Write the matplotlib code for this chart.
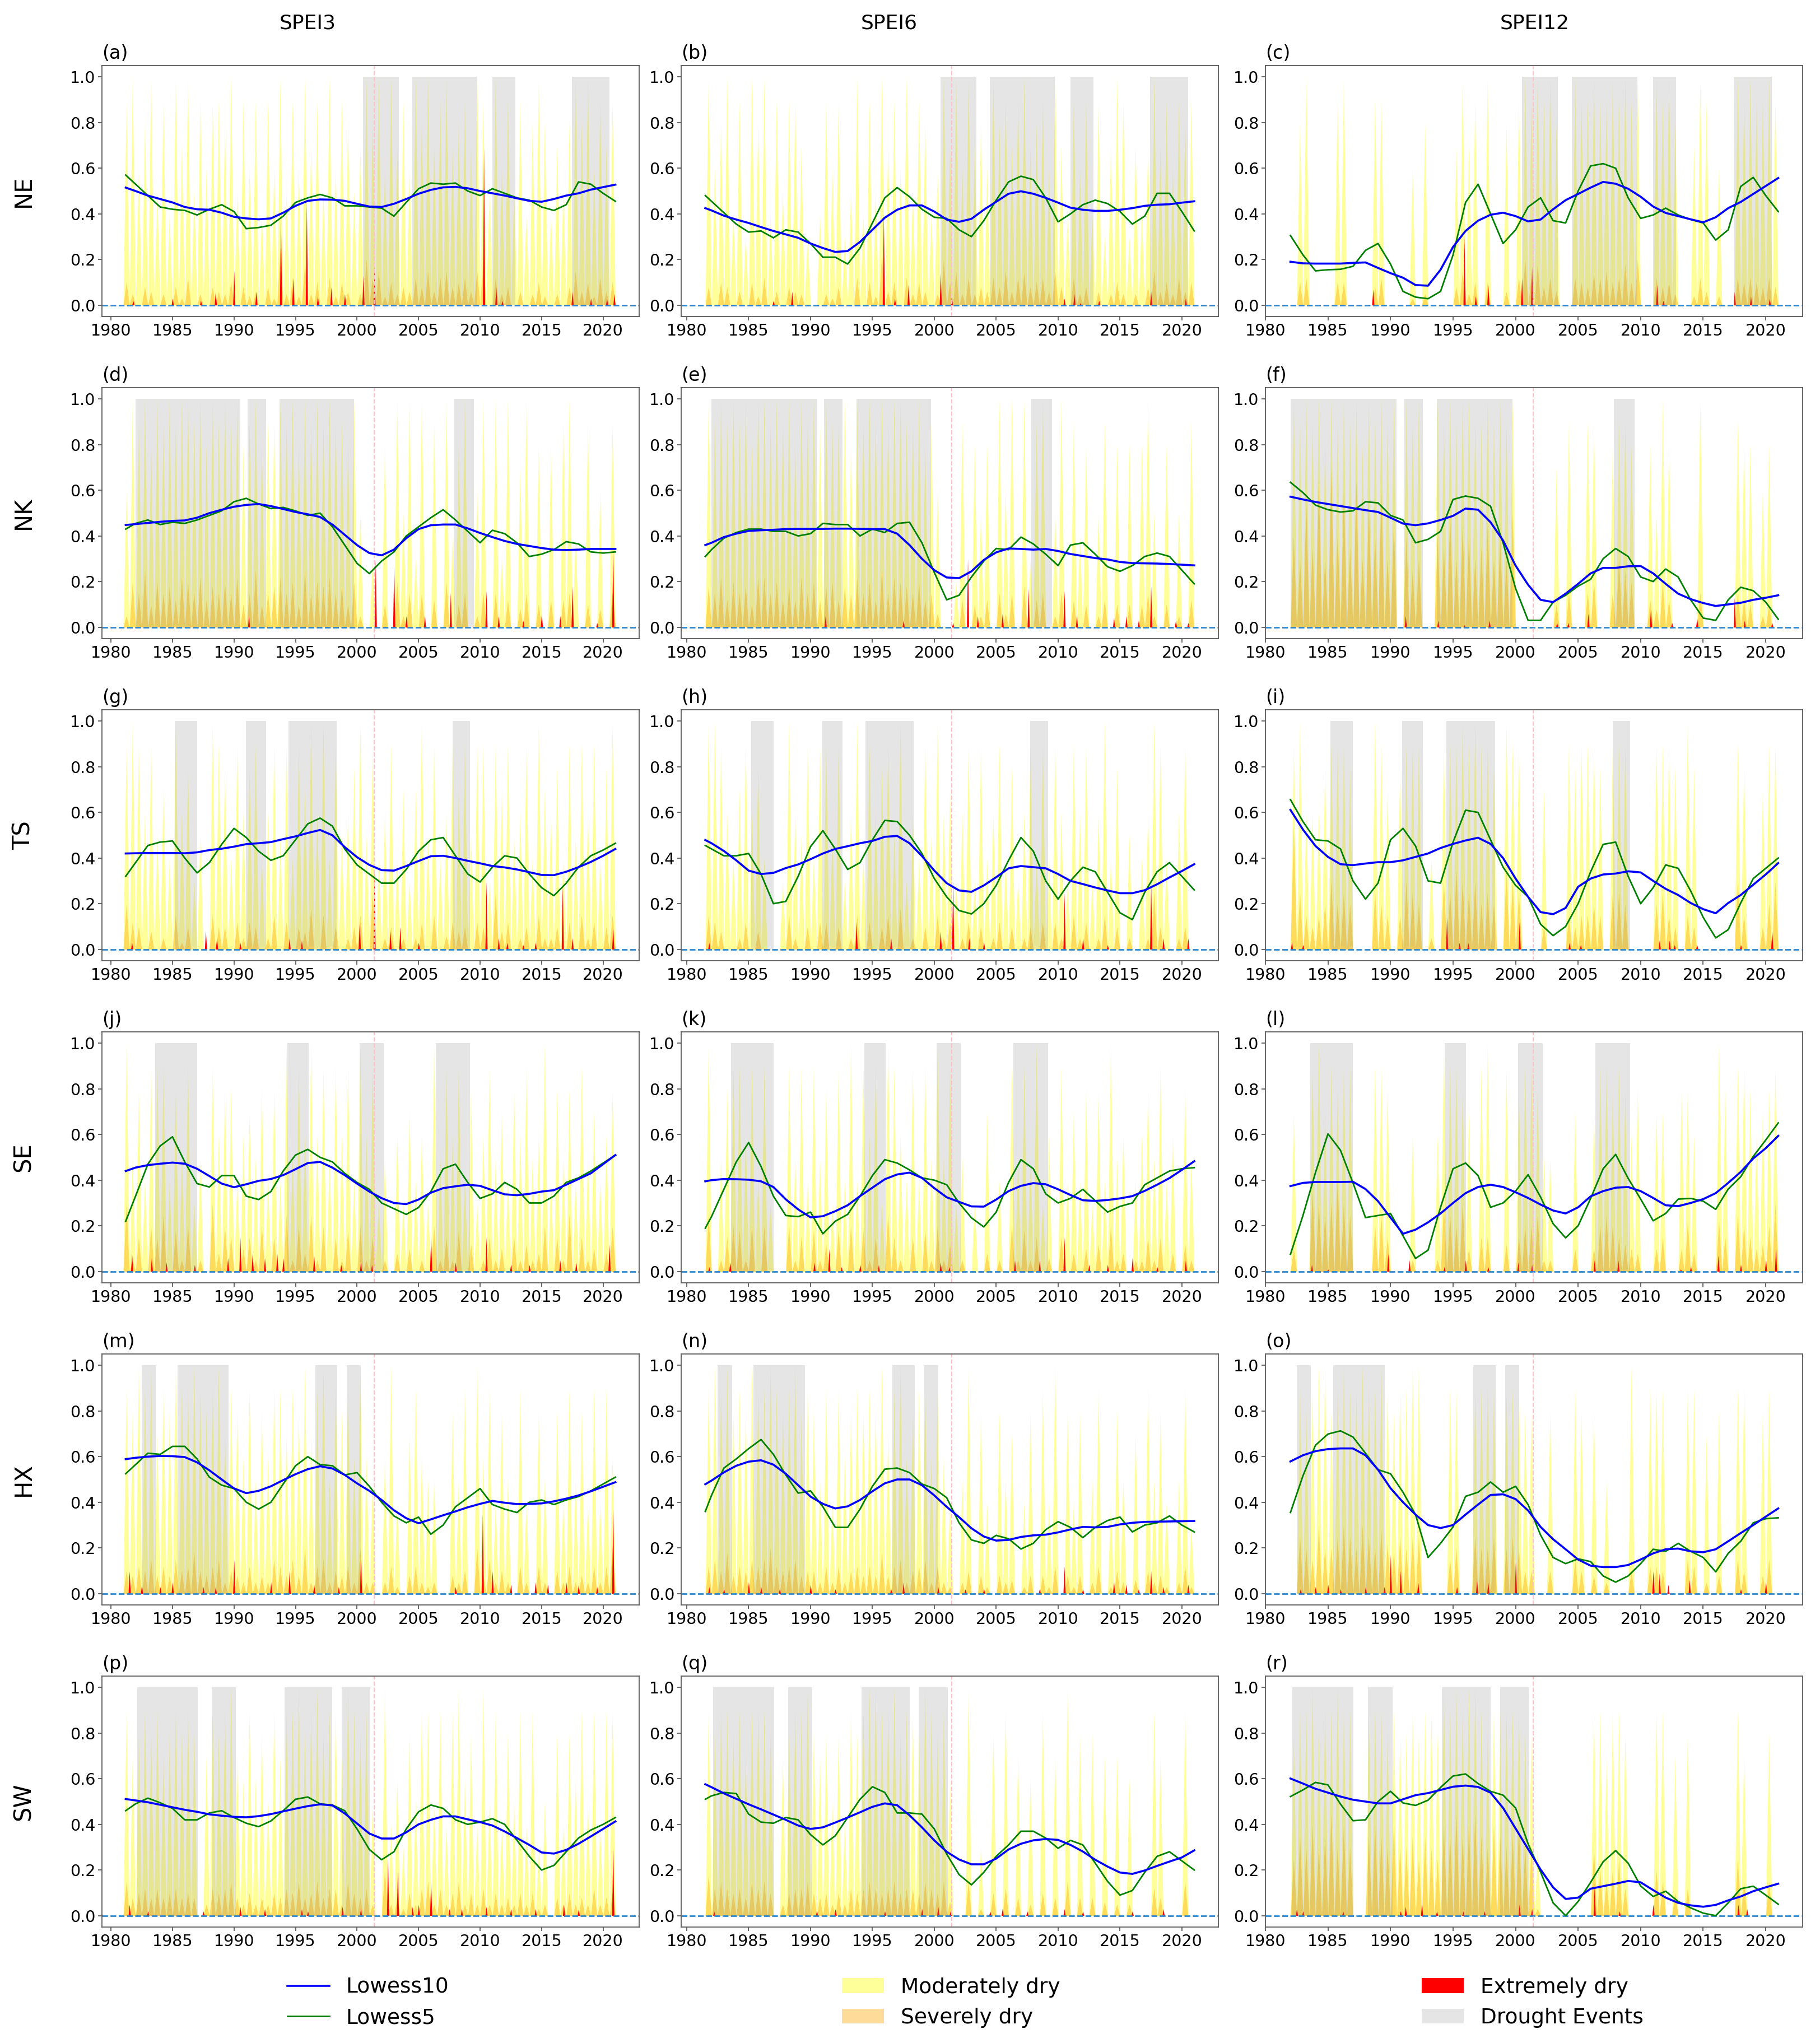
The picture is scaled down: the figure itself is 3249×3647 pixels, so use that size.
import numpy as np
import matplotlib.pyplot as plt
from matplotlib.lines import Line2D
from matplotlib.patches import Patch

nan = np.nan

# half-year grid for the dryness spikes (1981.25 ... 2020.75) and yearly grid for the lowess curves
spike_years = np.arange(1981.25, 2021.0, 0.5)
lowess_years = np.arange(1981, 2022).astype(float)

regions = ['NE', 'NK', 'TS', 'SE', 'HX', 'SW']
scales = ['SPEI3', 'SPEI6', 'SPEI12']

# drought events (start, end) per region
NE_EVENTS = [(2000.5, 2003.4), (2004.5, 2009.75), (2011.0, 2012.85), (2017.45, 2020.5)]
NK_EVENTS = [(1982.0, 1990.5), (1991.1, 1992.6), (1993.7, 1999.75), (2007.85, 2009.5)]
TS_EVENTS = [(1985.2, 1987.0), (1990.95, 1992.6), (1994.45, 1998.35), (2007.75, 2009.17)]
SE_EVENTS = [(1983.6, 1987.0), (1994.35, 1996.05), (2000.2, 2002.15), (2006.4, 2009.17)]
HX_EVENTS = [(1982.5, 1983.65), (1985.4, 1989.55), (1996.6, 1998.4), (1999.17, 2000.3)]
SW_EVENTS = [(1982.15, 1987.05), (1988.2, 1990.15), (1994.1, 1998.0), (1998.75, 2001.1)]

# ---- NE ----
NE3_MOD = [9,10,6,8,10,5,9,4,10,7, 10,5,9,6,9,9,8,10,5,9, 6,9,4,9,6,10,5,9,6,10, 7,9,5,10,6,9,8,5,7,10,
           8,10,6,10,7,9,6,10,8,10, 7,9,10,7,8,9,7,10,9,5, 10,6,9,5,9,4,8,10,8,4, 7,5,8,10,8,10,6,9,7,9]
NE3_SEV = [10,5,0,8,6,0,5,0,8,3, 12,0,5,0,8,6,5,10,0,8, 4,6,0,8,3,25,5,12,4,18, 5,10,0,12,4,10,6,0,5,20,
           12,15,4,10,5,8,6,12,8,15, 6,12,15,8,10,12,6,15,20,0, 12,5,8,0,6,0,5,10,4,0, 5,0,8,15,6,10,4,12,6,10]
NE3_EXT = [(1981.8,0.02),(1985.0,0.03),(1987.3,0.02),(1988.5,0.06),(1990.0,0.15),(1991.8,0.06),(1993.8,0.38),
           (1994.8,0.12),(1995.9,0.45),(1996.8,0.04),(1997.9,0.08),(1999.0,0.05),(2000.5,0.13),(2001.4,0.17),
           (2010.3,0.69),(2011.3,0.08),(2011.8,0.02),(2017.5,0.06),(2019.0,0.03),(2020.3,0.03),(2020.9,0.05)]
NE3_L10 = [0.515,0.50,0.48,0.465,0.45,0.43,0.42,0.418,0.405,0.387,
           0.38,0.376,0.38,0.405,0.435,0.457,0.463,0.462,0.457,0.444,
           0.432,0.43,0.444,0.465,0.488,0.505,0.516,0.518,0.512,0.50,
           0.49,0.48,0.468,0.457,0.453,0.465,0.48,0.49,0.506,0.517, 0.528]
NE3_L5 = [0.57,0.53,0.48,0.43,0.42,0.415,0.395,0.42,0.44,0.41,
          0.335,0.34,0.35,0.39,0.45,0.47,0.485,0.47,0.435,0.435,
          0.43,0.425,0.39,0.45,0.51,0.535,0.53,0.535,0.50,0.48,
          0.51,0.49,0.47,0.46,0.43,0.415,0.44,0.54,0.53,0.49, 0.455]

NE6_MOD = [0,10,6,8,10,4,9,3,10,8, 10,4,9,5,9,9,7,3,0,4, 9,6,9,3,5,10,4,9,5,10, 7,9,6,10,5,9,8,4,6,10,
           7,10,6,10,7,8,6,10,8,9, 7,9,10,7,8,9,6,10,7,4, 9,6,9,4,9,3,7,10,9,3, 7,4,7,10,7,9,6,9,8,9]
NE6_SEV = [0,8,0,10,8,0,6,0,10,4, 12,0,6,0,8,6,5,0,0,0, 5,3,8,0,0,12,0,10,4,22, 6,10,0,12,5,10,6,0,5,20,
           10,15,5,12,5,8,6,12,8,15, 6,12,14,8,10,12,6,15,8,0, 12,5,8,0,6,0,5,10,5,0, 5,0,8,15,6,10,5,12,6,10]
NE6_EXT = [(1987.0,0.02),(1988.5,0.06),(1995.9,0.40),(1996.8,0.03),(1997.9,0.09),(2000.5,0.14),(2001.4,0.04),
           (2010.5,0.03),(2011.3,0.05),(2011.8,0.01),(2013.3,0.02),(2017.5,0.06),(2020.3,0.03)]
NE6_L10 = [0.425,0.415,0.392,0.375,0.36,0.342,0.325,0.31,0.295,0.27,
           0.25,0.233,0.237,0.277,0.33,0.383,0.418,0.437,0.437,0.41,
           0.375,0.365,0.378,0.418,0.453,0.488,0.499,0.488,0.47,0.449,
           0.427,0.418,0.413,0.413,0.418,0.425,0.435,0.44,0.442,0.449, 0.455]
NE6_L5 = [0.48,0.455,0.405,0.355,0.32,0.325,0.295,0.33,0.32,0.27,
          0.21,0.21,0.18,0.25,0.36,0.47,0.515,0.475,0.42,0.385,
          0.38,0.33,0.30,0.37,0.46,0.54,0.565,0.55,0.47,0.365,
          0.40,0.44,0.46,0.445,0.41,0.355,0.39,0.49,0.49,0.41, 0.325]

NE12_MOD = [0,0,0,8,10,0,0,0,0,9, 10,0,0,0,0,9,9,0,0,0, 0,6,0,8,0,0,0,0,7,10, 7,9,0,10,0,0,8,0,9,10,
            9,10,9,10,8,0,0,10,9,9, 10,9,9,10,9,10,9,10,0,0, 10,9,10,8,0,0,7,10,9,0, 6,0,0,10,9,10,9,9,10,9]
NE12_SEV = [0,0,0,10,12,0,0,0,0,10, 10,0,0,0,0,8,12,0,0,0, 0,3,0,5,0,0,0,0,8,15, 5,10,0,10,0,0,6,0,12,20,
            12,18,8,12,6,0,0,12,10,8, 14,12,15,10,12,18,10,20,0,0, 12,8,10,5,0,0,4,12,6,0, 4,0,0,12,10,12,10,8,12,8]
NE12_EXT = [(1988.6,0.07),(1995.9,0.30),(1996.8,0.04),(1997.8,0.09),(2000.5,0.12),(2001.3,0.17),
            (2011.3,0.09),(2011.8,0.02),(2017.5,0.06),(2018.8,0.04),(2020.3,0.03)]
NE12_L10 = [nan,0.19,0.183,0.182,0.182,0.182,0.185,0.187,0.163,0.14,
            0.12,0.088,0.085,0.155,0.255,0.325,0.37,0.396,0.405,0.39,
            0.367,0.375,0.42,0.46,0.487,0.515,0.54,0.532,0.51,0.475,
            0.432,0.404,0.39,0.376,0.363,0.385,0.425,0.452,0.487,0.522, 0.557]
NE12_L5 = [nan,0.305,0.22,0.15,0.155,0.157,0.17,0.24,0.27,0.18,
           0.06,0.035,0.028,0.06,0.22,0.45,0.53,0.40,0.27,0.33,
           0.43,0.47,0.37,0.36,0.50,0.61,0.62,0.60,0.47,0.38,
           0.395,0.425,0.395,0.375,0.36,0.285,0.33,0.52,0.56,0.48, 0.41]

# ---- NK ----
NK3_MOD = [6,10,9,10,8,10,9,10,9,10, 10,9,10,8,10,9,10,9,10,8, 9,10,8,9,9,10,9,10,8,10, 9,10,9,10,9,9,8,10,5,0,
           3,0,8,0,10,5,10,3,10,0, 9,0,10,4,8,10,0,6,10,0, 10,3,10,0,7,10,0,8,0,8, 0,9,10,4,0,9,0,6,0,9]
NK3_SEV = [5,20,15,25,10,20,15,18,12,22, 20,15,22,12,18,15,20,15,22,10, 15,25,10,15,18,22,15,20,10,25, 15,20,18,22,15,18,10,20,5,0,
           0,0,10,0,20,5,15,0,15,0, 12,0,20,0,10,15,0,5,15,0, 15,0,12,0,8,15,0,10,0,12, 0,12,15,0,0,10,0,8,0,15]
NK3_EXT = [(1991.2,0.05),(2001.5,0.30),(2003.0,0.27),(2004.0,0.05),(2005.5,0.05),(2007.6,0.15),(2010.5,0.16),
           (2011.5,0.05),(2013.5,0.03),(2015.0,0.06),(2016.5,0.05),(2017.5,0.18),(2019.5,0.02),(2020.8,0.33)]
NK3_L10 = [0.448,0.452,0.457,0.462,0.466,0.468,0.48,0.50,0.515,0.528,
           0.536,0.54,0.531,0.518,0.505,0.495,0.483,0.45,0.405,0.36,
           0.325,0.315,0.34,0.39,0.43,0.447,0.45,0.45,0.433,0.413,
           0.395,0.378,0.365,0.356,0.347,0.34,0.338,0.34,0.343,0.343, 0.343]
NK3_L5 = [0.43,0.455,0.47,0.45,0.46,0.455,0.47,0.49,0.51,0.55,
          0.565,0.54,0.52,0.525,0.51,0.49,0.50,0.44,0.36,0.28,
          0.235,0.29,0.33,0.40,0.44,0.48,0.515,0.47,0.42,0.37,
          0.425,0.41,0.37,0.31,0.32,0.34,0.375,0.365,0.33,0.325, 0.33]

NK6_MOD = [0,10,9,10,9,10,9,10,8,10, 10,9,10,9,10,8,10,9,10,9, 10,9,9,10,8,10,9,10,9,10, 9,10,10,9,9,10,8,9,6,0,
           0,2,9,0,8,5,8,0,10,6, 10,0,10,3,9,10,0,5,10,0, 9,4,8,0,5,9,0,8,0,8, 0,8,10,5,0,8,0,5,0,9]
NK6_SEV = [0,18,15,22,12,20,15,18,10,22, 22,15,20,12,18,12,22,15,20,12, 18,20,12,18,15,22,15,20,12,25, 15,22,20,18,15,20,12,15,6,0,
           0,0,12,0,10,5,12,0,15,6, 15,0,18,0,12,15,0,5,15,0, 12,0,10,0,5,12,0,10,0,10, 0,10,15,5,0,10,0,5,0,12]
NK6_EXT = [(1991.2,0.05),(1997.5,0.03),(2001.5,0.02),(2002.7,0.30),(2003.5,0.05),(2005.5,0.06),(2007.6,0.17),
           (2010.5,0.16),(2011.5,0.05),(2014.5,0.04),(2015.5,0.05),(2016.5,0.03),(2017.5,0.18),(2019.5,0.03),(2020.5,0.02)]
NK6_L10 = [0.36,0.37,0.395,0.41,0.422,0.425,0.427,0.43,0.431,0.431,
           0.431,0.432,0.432,0.431,0.43,0.43,0.41,0.36,0.30,0.25,
           0.218,0.215,0.245,0.295,0.328,0.345,0.343,0.34,0.343,0.334,
           0.321,0.312,0.303,0.297,0.286,0.281,0.28,0.279,0.277,0.274, 0.271]
NK6_L5 = [0.31,0.34,0.39,0.415,0.43,0.43,0.42,0.42,0.40,0.41,
          0.455,0.45,0.45,0.40,0.43,0.415,0.455,0.46,0.37,0.24,
          0.12,0.14,0.22,0.29,0.345,0.34,0.395,0.365,0.32,0.27,
          0.36,0.37,0.32,0.265,0.245,0.27,0.31,0.325,0.31,0.25, 0.19]

NK12_MOD = [0,0,10,9,10,9,10,8,10,9, 10,9,10,8,10,9,10,9,10,0, 10,9,10,0,0,10,9,10,9,10, 10,9,9,10,9,10,9,10,0,0,
            0,0,0,0,7,0,9,0,0,9, 9,0,0,8,9,9,8,0,0,8, 5,10,8,0,0,0,0,10,0,0, 0,0,0,9,8,8,0,6,8,0]
NK12_SEV = [0,0,40,30,55,35,65,30,70,40, 60,35,65,30,55,40,60,30,45,0, 40,25,30,0,0,40,35,50,30,45, 40,30,35,45,30,40,30,50,0,0,
            0,0,0,0,10,0,15,0,0,15, 20,0,0,15,30,25,20,0,0,12, 8,20,12,0,0,0,0,15,0,0, 0,0,0,15,12,10,0,5,10,0]
NK12_EXT = [(1991.2,0.05),(1993.8,0.03),(1995.9,0.01),(1997.9,0.03),(2003.3,0.02),(2004.2,0.02),(2005.8,0.06),
            (2010.8,0.08),(2012.5,0.02),(2014.5,0.04),(2017.5,0.13),(2018.3,0.03),(2020.5,0.02)]
NK12_L10 = [nan,0.572,0.56,0.549,0.54,0.531,0.522,0.513,0.505,0.48,
            0.454,0.447,0.455,0.47,0.488,0.52,0.515,0.46,0.38,0.27,
            0.186,0.12,0.11,0.147,0.19,0.236,0.26,0.26,0.267,0.268,
            0.236,0.19,0.147,0.123,0.106,0.093,0.10,0.107,0.12,0.129, 0.14]
NK12_L5 = [nan,0.635,0.59,0.535,0.515,0.505,0.51,0.55,0.545,0.49,
           0.47,0.37,0.385,0.42,0.56,0.575,0.565,0.53,0.37,0.17,
           0.03,0.03,0.11,0.14,0.18,0.21,0.30,0.345,0.31,0.22,
           0.20,0.255,0.22,0.12,0.04,0.03,0.12,0.175,0.16,0.11, 0.035]

# ---- TS ----
TS3_MOD = [9,10,9,6,9,5,7,4,10,6, 8,3,5,0,10,9,8,4,9,6, 8,9,4,6,9,5,9,4,9,7, 10,6,10,4,9,5,6,8,10,5,
           9,4,6,9,4,7,3,7,10,5, 9,4,6,9,7,9,5,9,9,3, 9,7,9,5,6,9,4,10,7,6, 8,4,9,5,9,6,9,4,8,10]
TS3_SEV = [20,12,10,0,8,0,5,0,15,3, 10,0,0,0,15,10,10,0,12,5, 12,10,0,5,15,0,12,0,10,8, 18,0,15,0,10,0,5,10,15,0,
           25,0,5,10,0,5,0,5,12,0, 15,0,6,12,8,10,0,12,10,0, 25,8,12,0,5,10,0,15,5,5, 10,0,12,0,15,5,12,0,10,15]
TS3_EXT = [(1981.7,0.03),(1987.7,0.08),(1988.6,0.05),(1990.5,0.03),(1994.5,0.05),(1995.5,0.04),(2000.2,0.12),
           (2001.4,0.35),(2002.7,0.08),(2003.5,0.10),(2005.0,0.03),(2010.5,0.30),(2011.5,0.05),(2012.2,0.03),
           (2013.5,0.02),(2014.5,0.03),(2016.7,0.28),(2017.5,0.05),(2020.8,0.09)]
TS3_L10 = [0.42,0.421,0.422,0.422,0.422,0.421,0.425,0.435,0.441,0.45,
           0.461,0.465,0.47,0.483,0.495,0.51,0.523,0.50,0.448,0.404,
           0.37,0.347,0.345,0.365,0.387,0.408,0.41,0.40,0.388,0.377,
           0.365,0.359,0.35,0.338,0.326,0.325,0.34,0.36,0.383,0.41, 0.44]
TS3_L5 = [0.32,0.38,0.455,0.47,0.475,0.40,0.335,0.38,0.46,0.53,
          0.49,0.43,0.39,0.41,0.48,0.55,0.575,0.54,0.44,0.37,
          0.33,0.29,0.29,0.35,0.43,0.48,0.49,0.41,0.33,0.295,
          0.36,0.41,0.40,0.33,0.27,0.235,0.29,0.36,0.41,0.435, 0.465]

TS6_MOD = [0,10,10,9,6,4,7,9,6,8, 4,0,0,3,10,6,5,9,4,9, 9,5,9,3,6,10,4,9,6,8, 9,5,10,3,6,4,9,5,10,6,
           7,3,6,9,3,9,4,6,9,4, 8,3,6,9,4,9,4,9,6,3, 9,6,9,3,6,10,4,8,0,5, 0,4,6,10,9,4,0,6,9,0]
TS6_SEV = [0,15,12,8,0,0,5,12,0,8, 0,0,0,0,15,5,0,10,0,12, 12,0,10,0,5,15,0,12,0,10, 15,0,18,0,5,0,10,0,15,5,
           12,0,5,12,0,10,0,5,12,0, 10,0,5,10,0,12,0,12,5,0, 15,5,12,0,5,15,0,10,0,5, 0,0,5,25,10,0,0,5,10,0]
TS6_EXT = [(1981.8,0.03),(1993.7,0.12),(1996.5,0.05),(2000.5,0.08),(2001.5,0.30),(2002.8,0.05),(2004.0,0.03),
           (2010.5,0.25),(2012.0,0.05),(2014.0,0.02),(2017.5,0.30),(2018.5,0.05),(2020.5,0.05)]
TS6_L10 = [0.479,0.465,0.431,0.39,0.345,0.33,0.335,0.356,0.372,0.395,
           0.42,0.44,0.452,0.465,0.475,0.493,0.497,0.465,0.409,0.345,
           0.29,0.258,0.252,0.28,0.316,0.355,0.365,0.36,0.355,0.33,
           0.30,0.286,0.271,0.258,0.246,0.246,0.259,0.285,0.315,0.343, 0.373]
TS6_L5 = [0.455,0.44,0.41,0.41,0.42,0.33,0.20,0.21,0.32,0.45,
          0.52,0.44,0.35,0.38,0.48,0.565,0.56,0.50,0.42,0.31,
          0.23,0.17,0.155,0.20,0.28,0.39,0.49,0.43,0.30,0.22,
          0.30,0.36,0.34,0.25,0.16,0.13,0.25,0.34,0.38,0.32, 0.26]

TS12_MOD = [0,0,9,10,6,6,6,8,9,9, 9,8,0,0,0,10,9,7,0,8, 9,9,9,0,4,0,9,9,9,10, 9,10,9,9,8,0,10,9,9,0,
            0,0,7,0,0,0,9,8,9,9, 9,8,0,9,9,9,0,0,0,0, 9,9,9,8,0,10,8,0,0,0, 0,0,0,9,8,0,0,7,9,9]
TS12_SEV = [0,0,55,25,15,10,15,20,30,20, 25,20,0,0,0,25,20,15,0,15, 30,25,20,0,5,0,30,25,35,30, 25,30,20,25,20,0,35,30,25,0,
            0,0,10,0,0,0,15,10,15,15, 20,15,0,25,25,20,0,0,0,0, 20,25,15,10,0,15,10,0,0,0, 0,0,0,30,15,0,0,10,20,30]
TS12_EXT = [(1982.1,0.03),(1983.0,0.02),(1994.5,0.14),(1995.5,0.03),(1996.2,0.03),(2000.3,0.12),(2004.3,0.03),
            (2005.2,0.02),(2011.5,0.04),(2012.3,0.04),(2012.7,0.02),(2014.5,0.02),(2018.0,0.02),(2020.5,0.08)]
TS12_L10 = [nan,0.611,0.525,0.453,0.405,0.373,0.369,0.376,0.382,0.382,
            0.39,0.405,0.42,0.444,0.462,0.477,0.489,0.462,0.40,0.31,
            0.23,0.163,0.154,0.181,0.274,0.31,0.328,0.332,0.342,0.337,
            0.30,0.265,0.238,0.203,0.176,0.158,0.203,0.238,0.283,0.328, 0.378]
TS12_L5 = [nan,0.656,0.56,0.48,0.475,0.44,0.30,0.22,0.29,0.48,
           0.53,0.453,0.30,0.29,0.47,0.61,0.60,0.48,0.36,0.28,
           0.23,0.11,0.06,0.10,0.20,0.34,0.46,0.47,0.32,0.20,
           0.27,0.37,0.355,0.256,0.14,0.05,0.086,0.203,0.31,0.355, 0.40]

# ---- SE ----
SE3_MOD = [10,5,8,4,9,9,9,4,8,5, 9,3,5,0,9,6,8,8,4,6, 7,5,8,4,8,4,10,5,9,6, 10,6,9,5,9,6,9,4,10,6,
           9,3,5,0,6,3,7,4,6,3, 10,5,9,6,9,4,8,3,6,9, 5,7,4,8,6,9,5,6,10,4, 8,5,8,4,9,5,7,4,6,8]
SE3_SEV = [30,5,15,0,20,15,25,0,18,5, 20,0,5,0,30,8,20,15,0,10, 15,5,20,0,15,0,25,5,20,8, 25,5,20,0,15,5,18,0,20,5,
           15,0,5,0,8,0,10,0,5,0, 20,5,15,5,18,0,12,0,5,15, 5,10,0,15,5,12,5,8,20,0, 15,5,25,0,15,5,10,0,8,20]
SE3_EXT = [(1981.7,0.08),(1983.3,0.06),(1984.5,0.04),(1986.8,0.03),(1989.5,0.06),(1990.5,0.15),(1991.5,0.08),
           (1992.5,0.06),(1993.5,0.08),(1994.0,0.06),(1996.5,0.07),(1998.7,0.03),(2000.3,0.04),(2001.2,0.03),
           (2006.0,0.15),(2008.0,0.04),(2010.5,0.15),(2012.5,0.03),(2014.0,0.03),(2016.5,0.05),(2017.8,0.04),(2020.5,0.12)]
SE3_L10 = [0.44,0.455,0.466,0.472,0.477,0.472,0.45,0.418,0.385,0.369,
           0.382,0.397,0.405,0.422,0.448,0.475,0.48,0.455,0.422,0.385,
           0.35,0.321,0.30,0.295,0.315,0.345,0.365,0.373,0.38,0.375,
           0.356,0.338,0.334,0.34,0.35,0.356,0.38,0.405,0.43,0.47, 0.51]
SE3_L5 = [0.22,0.33,0.47,0.55,0.59,0.48,0.385,0.37,0.42,0.42,
          0.33,0.315,0.35,0.44,0.51,0.535,0.50,0.48,0.43,0.39,
          0.36,0.30,0.275,0.25,0.28,0.35,0.45,0.47,0.39,0.32,
          0.34,0.39,0.36,0.30,0.30,0.33,0.39,0.41,0.44,0.475, 0.51]

SE6_MOD = [0,10,0,5,8,9,9,6,9,4, 9,3,0,0,9,5,9,4,9,5, 8,3,9,4,10,4,9,6,9,3, 10,9,6,4,9,4,9,5,10,5,
           9,3,5,0,3,0,7,0,4,0, 9,5,9,5,10,3,6,0,9,4, 7,4,8,3,8,4,10,5,6,0, 4,6,8,5,9,4,6,0,8,5]
SE6_SEV = [0,25,0,5,15,20,18,5,20,0, 20,0,0,0,20,5,15,0,18,5, 12,0,18,0,20,0,18,5,15,0, 25,15,5,0,15,0,18,5,20,5,
           12,0,5,0,0,0,8,0,5,0, 20,5,18,5,15,0,6,0,15,0, 8,0,10,0,12,0,20,5,8,0, 5,5,15,5,15,0,8,0,12,5]
SE6_EXT = [(1981.8,0.02),(1983.5,0.04),(1990.3,0.04),(1991.5,0.10),(1992.5,0.02),(1994.0,0.03),(1995.5,0.03),
           (2000.5,0.04),(2001.2,0.02),(2006.5,0.05),(2008.5,0.05),(2010.5,0.15),(2012.5,0.03),(2014.0,0.03),
           (2016.0,0.06),(2018.0,0.02),(2020.3,0.05)]
SE6_L10 = [0.395,0.40,0.405,0.404,0.402,0.395,0.37,0.316,0.272,0.237,
           0.242,0.264,0.29,0.33,0.367,0.404,0.425,0.433,0.41,0.365,
           0.325,0.305,0.285,0.284,0.315,0.352,0.375,0.387,0.382,0.36,
           0.335,0.312,0.309,0.313,0.32,0.33,0.353,0.38,0.409,0.445, 0.483]
SE6_L5 = [0.19,0.24,0.36,0.48,0.565,0.46,0.33,0.245,0.24,0.26,
          0.165,0.22,0.25,0.33,0.42,0.49,0.475,0.445,0.41,0.40,
          0.38,0.30,0.235,0.195,0.26,0.39,0.49,0.45,0.34,0.30,
          0.32,0.36,0.31,0.26,0.285,0.30,0.38,0.41,0.44,0.45, 0.455]

SE12_MOD = [0,0,7,0,0,9,10,7,9,8, 9,9,0,0,0,9,9,8,0,0, 0,6,0,0,0,6,10,9,9,8, 7,0,9,10,0,0,9,0,8,9,
            9,8,5,5,0,0,0,7,0,0, 7,9,9,8,9,8,6,8,0,0, 7,7,0,0,8,8,6,0,0,0, 10,8,0,9,9,8,6,7,8,9]
SE12_SEV = [0,0,10,0,0,35,30,25,30,40, 30,25,0,0,0,20,25,15,0,0, 0,5,0,0,0,5,30,25,20,30, 10,0,15,15,0,0,12,0,15,20,
            20,25,5,5,0,0,0,10,0,0, 10,20,25,20,15,12,10,8,0,0, 10,15,0,0,10,22,8,0,0,0, 22,15,0,25,20,15,10,12,20,30]
SE12_EXT = [(1983.7,0.03),(1985.0,0.01),(1989.8,0.08),(1991.5,0.05),(1994.3,0.02),(1996.0,0.05),(1997.8,0.02),
            (2000.2,0.04),(2001.3,0.03),(2006.3,0.05),(2008.2,0.05),(2013.2,0.01),(2014.0,0.02),(2016.2,0.07),
            (2018.0,0.03),(2020.0,0.05),(2020.8,0.10)]
SE12_L10 = [nan,0.374,0.388,0.392,0.392,0.392,0.393,0.361,0.308,0.236,
            0.165,0.183,0.215,0.254,0.30,0.343,0.37,0.38,0.37,0.347,
            0.322,0.293,0.267,0.254,0.281,0.329,0.352,0.367,0.37,0.352,
            0.322,0.29,0.286,0.30,0.317,0.343,0.388,0.436,0.495,0.54, 0.594]
SE12_L5 = [nan,0.075,0.245,0.433,0.603,0.531,0.388,0.236,0.245,0.254,
           0.156,0.057,0.093,0.281,0.45,0.475,0.42,0.281,0.30,0.352,
           0.424,0.326,0.209,0.147,0.20,0.32,0.45,0.513,0.408,0.317,
           0.222,0.254,0.317,0.32,0.308,0.272,0.361,0.415,0.504,0.576, 0.651]

# ---- HX ----
HX3_MOD = [9,8,10,9,10,7,9,8,10,9, 9,10,9,8,9,10,7,9,8,6, 9,5,8,6,9,9,7,9,8,10, 7,9,10,5,9,8,9,6,10,6,
           5,0,6,10,4,0,7,9,6,5, 5,0,0,8,5,9,0,10,6,9, 4,8,5,0,9,4,0,8,5,0, 8,4,9,5,8,4,9,4,9,6]
HX3_SEV = [10,8,12,10,15,8,12,8,15,10, 12,18,10,8,12,15,5,10,8,5, 12,5,8,5,15,12,8,15,8,20, 5,12,15,5,10,8,12,5,20,5,
           5,0,5,12,3,0,8,12,5,3, 5,0,0,8,5,10,0,20,8,15, 5,10,5,0,12,5,0,12,5,0, 10,5,12,5,8,5,12,5,12,20]
HX3_EXT = [(1981.5,0.10),(1982.5,0.04),(1984.0,0.03),(1985.0,0.05),(1987.5,0.03),(1988.5,0.03),(1990.0,0.15),
           (1993.0,0.05),(1994.5,0.10),(1996.5,0.04),(1998.5,0.03),(2000.3,0.15),(2008.0,0.03),(2010.2,0.35),
           (2011.0,0.10),(2012.5,0.04),(2014.5,0.05),(2015.5,0.04),(2017.0,0.05),(2018.0,0.04),(2019.5,0.03),(2020.8,0.37)]
HX3_L10 = [0.589,0.595,0.60,0.603,0.602,0.598,0.575,0.54,0.50,0.461,
           0.44,0.45,0.47,0.497,0.523,0.545,0.558,0.548,0.52,0.483,
           0.45,0.41,0.365,0.33,0.308,0.325,0.343,0.36,0.378,0.393,
           0.406,0.398,0.392,0.393,0.395,0.404,0.416,0.43,0.448,0.468, 0.488]
HX3_L5 = [0.525,0.565,0.615,0.61,0.645,0.645,0.59,0.51,0.475,0.46,
          0.40,0.37,0.40,0.48,0.56,0.60,0.565,0.56,0.52,0.53,
          0.47,0.40,0.34,0.31,0.335,0.26,0.30,0.38,0.42,0.46,
          0.39,0.37,0.355,0.40,0.41,0.39,0.41,0.425,0.45,0.48, 0.51]

HX6_MOD = [0,9,10,9,10,8,9,8,10,9, 9,10,9,8,9,10,8,9,8,5, 9,4,9,6,8,9,8,9,8,10, 7,9,10,6,8,9,9,6,9,6,
           4,0,5,10,0,8,4,0,8,5, 7,0,4,8,0,9,4,10,0,8, 4,8,0,5,9,0,4,8,5,0, 7,0,9,5,8,4,0,5,9,3]
HX6_SEV = [0,12,15,10,18,8,12,10,15,12, 15,20,12,10,12,15,8,10,10,5, 12,5,12,5,10,12,8,12,8,18, 8,12,15,5,10,12,15,5,12,5,
           3,0,5,10,0,8,3,0,8,5, 6,0,3,8,0,8,3,12,0,8, 3,8,0,5,12,0,3,10,5,0, 6,0,10,5,8,3,0,5,12,3]
HX6_EXT = [(1981.8,0.03),(1983.0,0.02),(1985.0,0.05),(1986.0,0.03),(1987.5,0.02),(1990.0,0.04),(1992.0,0.02),
           (1996.5,0.02),(1997.5,0.05),(2000.3,0.03),(2002.5,0.02),(2004.0,0.02),(2008.5,0.02),(2010.5,0.12),
           (2012.0,0.02),(2014.5,0.05),(2015.5,0.04),(2016.5,0.02),(2017.5,0.10),(2018.5,0.03),(2020.5,0.04)]
HX6_L10 = [0.479,0.495,0.531,0.56,0.578,0.584,0.565,0.525,0.475,0.425,
           0.393,0.373,0.382,0.41,0.448,0.483,0.50,0.50,0.475,0.43,
           0.38,0.335,0.286,0.25,0.232,0.235,0.248,0.255,0.258,0.268,
           0.281,0.292,0.29,0.292,0.303,0.31,0.314,0.315,0.316,0.317, 0.318]
HX6_L5 = [0.36,0.43,0.55,0.59,0.635,0.675,0.61,0.52,0.44,0.45,
          0.38,0.29,0.29,0.37,0.47,0.545,0.55,0.53,0.48,0.46,
          0.42,0.31,0.235,0.22,0.255,0.24,0.195,0.22,0.28,0.315,
          0.29,0.245,0.29,0.32,0.335,0.27,0.30,0.31,0.34,0.30, 0.27]

HX12_MOD = [0,0,0,9,8,9,10,10,8,9, 10,9,9,10,9,9,10,9,8,9, 9,10,10,0,0,0,0,9,9,0, 0,9,9,9,9,0,9,9,9,8,
            8,0,0,8,0,0,0,9,8,0, 8,0,5,0,0,0,10,0,0,9, 9,9,0,0,0,9,9,0,7,0, 8,0,0,9,9,0,0,8,9,0]
HX12_SEV = [0,0,0,25,20,15,30,20,20,25, 30,25,20,30,25,20,28,22,18,25, 20,25,25,0,0,0,0,15,20,0, 0,25,20,20,25,0,20,25,20,10,
            10,0,0,10,0,0,0,15,10,0, 8,0,5,0,0,0,10,0,0,12, 12,10,0,0,0,15,12,0,5,0, 8,0,0,15,10,0,0,8,15,0]
HX12_EXT = [(1982.8,0.02),(1984.0,0.03),(1985.0,0.04),(1986.0,0.02),(1988.0,0.03),(1989.5,0.03),(1990.0,0.17),
            (1990.8,0.10),(1992.2,0.05),(1995.3,0.03),(1996.9,0.06),(1997.8,0.05),(2000.0,0.14),(2011.0,0.10),
            (2011.5,0.09),(2012.2,0.04),(2013.9,0.06),(2018.0,0.02),(2020.0,0.05)]
HX12_L10 = [nan,0.579,0.606,0.624,0.633,0.636,0.636,0.606,0.543,0.462,
            0.40,0.346,0.30,0.287,0.30,0.346,0.39,0.432,0.435,0.414,
            0.364,0.292,0.238,0.194,0.149,0.122,0.116,0.116,0.125,0.149,
            0.176,0.194,0.197,0.185,0.181,0.194,0.229,0.265,0.30,0.337, 0.373]
HX12_L5 = [nan,0.355,0.516,0.65,0.699,0.713,0.686,0.615,0.543,0.525,
           0.444,0.346,0.158,0.22,0.292,0.426,0.444,0.489,0.444,0.47,
           0.39,0.256,0.158,0.131,0.152,0.14,0.077,0.05,0.077,0.131,
           0.194,0.185,0.22,0.185,0.158,0.095,0.176,0.229,0.31,0.328, 0.332]

# ---- SW ----
SW3_MOD = [9,7,8,9,8,9,7,8,9,8, 9,8,0,7,9,8,9,10,7,6, 9,6,8,5,9,7,9,9,10,8, 9,10,8,9,9,7,10,9,8,9,
           5,0,10,4,6,3,8,5,9,9, 5,9,4,9,10,6,8,4,10,5, 9,4,8,5,9,4,9,3,5,0, 8,4,8,6,9,5,9,4,9,9]
SW3_SEV = [15,8,10,12,8,12,8,10,12,8, 10,8,0,5,12,10,12,15,8,5, 10,5,8,5,10,8,12,10,15,8, 10,15,8,12,12,5,15,10,8,12,
           5,0,20,5,8,3,10,5,12,15, 5,12,5,10,15,5,10,5,12,5, 10,5,8,5,10,5,10,3,5,0, 8,5,10,5,8,5,12,5,8,10]
SW3_EXT = [(1981.5,0.05),(1983.0,0.02),(1987.5,0.02),(1990.5,0.04),(1992.5,0.03),(1995.5,0.03),(1996.0,0.02),
           (1998.8,0.04),(2000.3,0.03),(2002.5,0.25),(2003.3,0.20),(2004.5,0.04),(2005.0,0.05),(2006.0,0.15),
           (2007.5,0.03),(2008.5,0.03),(2010.5,0.04),(2012.5,0.03),(2014.5,0.03),(2016.8,0.05),(2018.0,0.03),(2020.8,0.30)]
SW3_L10 = [0.511,0.505,0.497,0.486,0.475,0.464,0.455,0.444,0.438,0.433,
           0.431,0.436,0.445,0.457,0.469,0.48,0.488,0.483,0.448,0.404,
           0.36,0.338,0.338,0.365,0.40,0.42,0.435,0.435,0.422,0.41,
           0.395,0.369,0.34,0.31,0.277,0.272,0.288,0.315,0.347,0.38, 0.413]
SW3_L5 = [0.46,0.49,0.515,0.495,0.47,0.42,0.42,0.45,0.46,0.43,
          0.405,0.39,0.415,0.46,0.51,0.52,0.49,0.485,0.46,0.38,
          0.29,0.245,0.28,0.38,0.455,0.485,0.47,0.42,0.40,0.41,
          0.425,0.40,0.33,0.26,0.20,0.22,0.28,0.34,0.375,0.40, 0.43]

SW6_MOD = [0,9,8,9,9,8,9,7,9,9, 9,8,0,7,8,9,9,10,8,7, 8,5,8,4,9,8,9,10,10,9, 9,10,8,9,9,8,10,9,8,9,
           6,0,0,10,0,3,0,8,0,9, 0,7,0,6,0,9,0,7,0,10, 0,8,0,8,0,7,0,7,0,6, 0,0,0,9,7,0,0,0,9,0]
SW6_SEV = [0,18,12,15,12,10,12,8,15,12, 15,10,0,5,10,12,12,15,10,8, 10,5,10,5,12,10,12,15,12,10, 12,15,10,12,12,10,15,12,10,15,
           6,0,0,15,0,3,0,10,0,12, 0,8,0,5,0,10,0,8,0,15, 0,8,0,8,0,6,0,5,0,5, 0,0,0,12,8,0,0,0,15,0]
SW6_EXT = [(1982.2,0.02),(1990.5,0.02),(1992.0,0.03),(1996.0,0.02),(1999.0,0.03),(2000.3,0.04),(2001.3,0.02),
           (2004.5,0.02),(2005.5,0.03),(2007.5,0.02),(2010.5,0.03),(2012.0,0.02),(2016.0,0.02),(2018.5,0.03)]
SW6_L10 = [0.576,0.563,0.536,0.512,0.488,0.466,0.443,0.42,0.395,0.38,
           0.387,0.408,0.43,0.453,0.477,0.492,0.484,0.44,0.387,0.33,
           0.28,0.246,0.225,0.225,0.25,0.29,0.315,0.33,0.336,0.332,
           0.31,0.281,0.245,0.215,0.189,0.183,0.198,0.218,0.237,0.255, 0.286]
SW6_L5 = [0.51,0.525,0.54,0.535,0.445,0.41,0.405,0.43,0.42,0.355,
          0.31,0.35,0.43,0.51,0.565,0.54,0.45,0.45,0.445,0.38,
          0.27,0.18,0.135,0.19,0.26,0.31,0.37,0.37,0.34,0.295,
          0.33,0.31,0.23,0.15,0.09,0.11,0.19,0.26,0.28,0.24, 0.20]

SW12_MOD = [0,0,8,9,9,10,8,9,9,10, 9,9,0,0,9,9,9,8,9,8, 8,9,8,9,9,8,10,9,10,9, 10,10,9,8,9,9,9,9,9,8,
            8,3,0,0,0,0,0,0,0,0, 9,9,7,9,9,8,0,0,0,0, 9,9,0,7,0,8,0,0,0,0, 0,0,0,9,7,0,0,0,8,0]
SW12_SEV = [0,0,25,35,30,40,30,35,45,30, 40,30,0,0,35,40,35,30,40,30, 30,35,25,35,30,25,40,35,45,35, 40,45,35,30,40,35,30,35,40,30,
            30,3,0,0,0,0,0,0,0,0, 30,20,15,20,25,12,0,0,0,0, 20,15,0,10,0,12,0,0,0,0, 0,0,0,25,15,0,0,0,15,0]
SW12_EXT = [(1982.5,0.03),(1983.0,0.02),(1986.2,0.02),(1990.8,0.02),(1991.2,0.04),(1992.5,0.05),(1993.7,0.02),
            (1995.8,0.02),(1997.5,0.02),(2000.3,0.05),(2001.3,0.03),(2006.3,0.13),(2008.3,0.02),(2011.0,0.05),
            (2017.8,0.05),(2018.5,0.03)]
SW12_L10 = [nan,0.601,0.579,0.556,0.539,0.522,0.508,0.50,0.492,0.492,
            0.51,0.528,0.537,0.551,0.565,0.57,0.564,0.539,0.472,0.382,
            0.292,0.202,0.124,0.073,0.079,0.118,0.129,0.14,0.152,0.146,
            0.112,0.079,0.056,0.045,0.039,0.047,0.067,0.084,0.107,0.124, 0.14]
SW12_L5 = [nan,0.522,0.551,0.584,0.573,0.489,0.416,0.42,0.50,0.545,
           0.494,0.483,0.506,0.562,0.612,0.621,0.579,0.545,0.528,0.472,
           0.315,0.191,0.056,0.0,0.062,0.146,0.236,0.285,0.23,0.13,
           0.084,0.107,0.062,0.034,0.011,0.0,0.056,0.118,0.129,0.09, 0.05]

EVENTS = {'NE': NE_EVENTS, 'NK': NK_EVENTS, 'TS': TS_EVENTS,
          'SE': SE_EVENTS, 'HX': HX_EVENTS, 'SW': SW_EVENTS}
PANELS = {
    ('NE', 0): (NE3_MOD, NE3_SEV, NE3_EXT, NE3_L10, NE3_L5),
    ('NE', 1): (NE6_MOD, NE6_SEV, NE6_EXT, NE6_L10, NE6_L5),
    ('NE', 2): (NE12_MOD, NE12_SEV, NE12_EXT, NE12_L10, NE12_L5),
    ('NK', 0): (NK3_MOD, NK3_SEV, NK3_EXT, NK3_L10, NK3_L5),
    ('NK', 1): (NK6_MOD, NK6_SEV, NK6_EXT, NK6_L10, NK6_L5),
    ('NK', 2): (NK12_MOD, NK12_SEV, NK12_EXT, NK12_L10, NK12_L5),
    ('TS', 0): (TS3_MOD, TS3_SEV, TS3_EXT, TS3_L10, TS3_L5),
    ('TS', 1): (TS6_MOD, TS6_SEV, TS6_EXT, TS6_L10, TS6_L5),
    ('TS', 2): (TS12_MOD, TS12_SEV, TS12_EXT, TS12_L10, TS12_L5),
    ('SE', 0): (SE3_MOD, SE3_SEV, SE3_EXT, SE3_L10, SE3_L5),
    ('SE', 1): (SE6_MOD, SE6_SEV, SE6_EXT, SE6_L10, SE6_L5),
    ('SE', 2): (SE12_MOD, SE12_SEV, SE12_EXT, SE12_L10, SE12_L5),
    ('HX', 0): (HX3_MOD, HX3_SEV, HX3_EXT, HX3_L10, HX3_L5),
    ('HX', 1): (HX6_MOD, HX6_SEV, HX6_EXT, HX6_L10, HX6_L5),
    ('HX', 2): (HX12_MOD, HX12_SEV, HX12_EXT, HX12_L10, HX12_L5),
    ('SW', 0): (SW3_MOD, SW3_SEV, SW3_EXT, SW3_L10, SW3_L5),
    ('SW', 1): (SW6_MOD, SW6_SEV, SW6_EXT, SW6_L10, SW6_L5),
    ('SW', 2): (SW12_MOD, SW12_SEV, SW12_EXT, SW12_L10, SW12_L5),
}

lowess_start = [1981.2, 1981.5, 1982.0]
xlims = [(1979.27, 2022.93), (1979.55, 2022.95), (1980.05, 2022.95)]
spike_halfwidth = 0.25


def spikes(t, h, w):
    # each value is drawn as a thin peak of half-width w
    xs, ys = [], []
    for ti, hi in zip(t, h):
        if hi > 0:
            xs += [ti - w, ti, ti + w]
            ys += [0, hi, 0]
    return xs, ys


W, H = 3249, 3647
fig = plt.figure(figsize=(W / 100, H / 100), dpi=100)
col_left = [182, 1216, 2259]
ax_w, ax_h = 959, 448
row_top = [117 + 575 * i for i in range(6)]
letters = 'abcdefghijklmnopqr'

for i, reg in enumerate(regions):
    for j in range(3):
        mod, sev, ext, l10, l5 = PANELS[(reg, j)]
        ax = fig.add_axes([col_left[j] / W, 1 - (row_top[i] + ax_h) / H, ax_w / W, ax_h / H])

        xs, ys = spikes(spike_years, np.array(mod) / 10, spike_halfwidth)
        ax.fill_between(xs, ys, 0, color='yellow', alpha=0.4, linewidth=0)
        xs, ys = spikes(spike_years, np.array(sev) / 100, spike_halfwidth)
        ax.fill_between(xs, ys, 0, color='orange', alpha=0.4, linewidth=0)
        xs, ys = spikes([e[0] for e in ext], [e[1] for e in ext], 0.09)
        ax.fill_between(xs, ys, 0, color='red', linewidth=0)

        for a, b in EVENTS[reg]:
            ax.fill_between([a, b], 0, 1, color='gray', alpha=0.2, linewidth=0)

        ax.axhline(0, color='#2f86cc', linestyle='--', linewidth=2)
        ax.axvline(2001.4, color='pink', linestyle='--', linewidth=1.5)

        x = lowess_years.copy()
        x[0] = lowess_start[j]
        ax.plot(x, l5, color='green', linewidth=2.0)
        ax.plot(x, l10, color='blue', linewidth=2.6)

        ax.set_xlim(*xlims[j])
        ax.set_ylim(-0.05, 1.05)
        ax.set_xticks(range(1980, 2021, 5))
        ax.set_yticks(np.arange(0, 1.01, 0.2))
        ax.yaxis.set_major_formatter('{x:.1f}')
        ax.tick_params(labelsize=20.5, length=5, width=1.2, color='0.3')
        for s in ax.spines.values():
            s.set_color('0.35')
            s.set_linewidth(1.3)
        ax.text(0.0, 1.012, '(%s)' % letters[3 * i + j], transform=ax.transAxes,
                fontsize=24, ha='left', va='bottom')

    fig.text(42 / W, 1 - (row_top[i] + ax_h / 2) / H, reg, rotation=90,
             ha='center', va='center', fontsize=30)

for xc, title in zip([549, 1587, 2740], scales):
    fig.text(xc / W, 1 - 42 / H, title, ha='center', va='center', fontsize=26)

leg_y = 1 - 3575 / H
fig.legend(handles=[Line2D([], [], color='blue', linewidth=2.6, label='Lowess10'),
                    Line2D([], [], color='green', linewidth=2.0, label='Lowess5')],
           loc='center left', bbox_to_anchor=(479 / W, leg_y), frameon=False, fontsize=27)
fig.legend(handles=[Patch(facecolor='yellow', alpha=0.4, edgecolor='none', label='Moderately dry'),
                    Patch(facecolor='orange', alpha=0.4, edgecolor='none', label='Severely dry')],
           loc='center left', bbox_to_anchor=(1469 / W, leg_y), frameon=False, fontsize=27)
fig.legend(handles=[Patch(facecolor='red', edgecolor='none', label='Extremely dry'),
                    Patch(facecolor='gray', alpha=0.2, edgecolor='none', label='Drought Events')],
           loc='center left', bbox_to_anchor=(2504 / W, leg_y), frameon=False, fontsize=27)

fig.savefig('out.png', dpi=100)
